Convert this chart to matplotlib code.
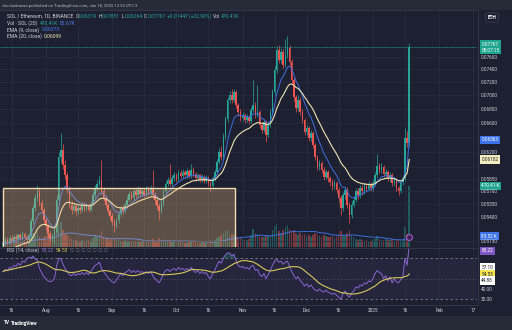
import numpy as np
import pandas as pd
import matplotlib
matplotlib.use("Agg")
import matplotlib.pyplot as plt
import matplotlib.dates as mdates
import matplotlib.transforms as mtransforms
from matplotlib.patches import Rectangle
from matplotlib.ticker import FuncFormatter, NullLocator, FixedLocator

plt.rcParams["font.family"] = ["Roboto", "DejaVu Sans"]

# SOL / ETH, 1D, Binance
start_day = "2024-07-12"
first_open = 0.0508
closes = [
    0.0510, 0.0514, 0.0511, 0.0516, 0.0513, 0.0517, 0.0515, 0.0519, 0.0516, 0.0520, 0.0517, 0.0514, 0.0519,
    0.0535, 0.0550, 0.0562, 0.0570,
    0.0556, 0.0548, 0.0536, 0.0529, 0.0520, 0.0516, 0.0518, 0.0523,
    0.0560, 0.0613, 0.0623, 0.0603, 0.0590, 0.0572, 0.0554,
    0.0548, 0.0552, 0.0546, 0.0550, 0.0548, 0.0554, 0.0549, 0.0553, 0.0548, 0.0555,
    0.0565, 0.0574, 0.0579, 0.0584, 0.0570, 0.0562, 0.0554, 0.0546, 0.0541, 0.0534, 0.0529,
    0.0536, 0.0543, 0.0550, 0.0546, 0.0554, 0.0560, 0.0567, 0.0562, 0.0570, 0.0565, 0.0572, 0.0567, 0.0571, 0.0566, 0.0573, 0.0568, 0.0574,
    0.0565, 0.0559, 0.0553, 0.0547, 0.0556, 0.0570, 0.0579, 0.0584,
    0.0579, 0.0586, 0.0590, 0.0585, 0.0593, 0.0589, 0.0594, 0.0590, 0.0595, 0.0589, 0.0597, 0.0591, 0.0586, 0.0590, 0.0584, 0.0588, 0.0583, 0.0586, 0.0580, 0.0577,
    0.0586, 0.0594, 0.0607, 0.0620, 0.0614, 0.0640, 0.0665, 0.0693, 0.0700, 0.0693, 0.0705,
    0.0685, 0.0675, 0.0667, 0.0671, 0.0664, 0.0668, 0.0662, 0.0678, 0.0685, 0.0671, 0.0675, 0.0657, 0.0650, 0.0661, 0.0643, 0.0657, 0.0675,
    0.0705, 0.0739, 0.0771, 0.0755, 0.0768, 0.0747, 0.0763, 0.0774, 0.0752, 0.0723,
    0.0697, 0.0681, 0.0693, 0.0675, 0.0664, 0.0647, 0.0653, 0.0639, 0.0646, 0.0629, 0.0613, 0.0600, 0.0605, 0.0597, 0.0588, 0.0594, 0.0586, 0.0581, 0.0577, 0.0580, 0.0572, 0.0562,
    0.0550, 0.0565, 0.0572, 0.0554, 0.0542, 0.0554, 0.0560, 0.0570, 0.0565, 0.0574, 0.0570, 0.0577, 0.0573, 0.0579, 0.0574, 0.0580,
    0.0590, 0.0602, 0.0597, 0.0600, 0.0591, 0.0594, 0.0586, 0.0590, 0.0580, 0.0584, 0.0574, 0.0570, 0.0581, 0.0586, 0.0639, 0.06319, 0.07767,
]
highs = [
    0.0513, 0.0517, 0.0517, 0.0519, 0.0519, 0.0520, 0.0520, 0.0522, 0.0521, 0.0524, 0.0523, 0.0519, 0.0522,
    0.0538, 0.0554, 0.0567, 0.0578,
    0.0575, 0.0560, 0.0551, 0.0540, 0.0532, 0.0524, 0.0522, 0.0527,
    0.0565, 0.0620, 0.0645, 0.0630, 0.0610, 0.0594, 0.0576,
    0.0558, 0.0556, 0.0555, 0.0554, 0.0553, 0.0557, 0.0557, 0.0556, 0.0556, 0.0558,
    0.0569, 0.0578, 0.0584, 0.0590, 0.0610, 0.0574, 0.0566, 0.0557, 0.0549, 0.0544, 0.0537,
    0.0539, 0.0546, 0.0553, 0.0554, 0.0557, 0.0564, 0.0571, 0.0570, 0.0573, 0.0574, 0.0576, 0.0575, 0.0574, 0.0574, 0.0577, 0.0576, 0.0578,
    0.0597, 0.0569, 0.0562, 0.0556, 0.0559, 0.0573, 0.0583, 0.0588,
    0.0604, 0.0590, 0.0594, 0.0593, 0.0597, 0.0596, 0.0598, 0.0597, 0.0599, 0.0598, 0.0604, 0.0600, 0.0594, 0.0593, 0.0592, 0.0591, 0.0590, 0.0590, 0.0589, 0.0583,
    0.0589, 0.0598, 0.0611, 0.0625, 0.0628, 0.0645, 0.0670, 0.0698, 0.0706, 0.0709, 0.0710,
    0.0708, 0.0689, 0.0679, 0.0675, 0.0674, 0.0672, 0.0671, 0.0682, 0.0723, 0.0690, 0.0715, 0.0678, 0.0661, 0.0665, 0.0664, 0.0661, 0.0679,
    0.0710, 0.0745, 0.0778, 0.0780, 0.0775, 0.0772, 0.0789, 0.0795, 0.0779, 0.0756,
    0.0727, 0.0701, 0.0700, 0.0697, 0.0679, 0.0667, 0.0657, 0.0656, 0.0650, 0.0649, 0.0632, 0.0616, 0.0609, 0.0608, 0.0600, 0.0598, 0.0597, 0.0589, 0.0585, 0.0584, 0.0583, 0.0575,
    0.0565, 0.0569, 0.0576, 0.0575, 0.0557, 0.0558, 0.0564, 0.0574, 0.0574, 0.0578, 0.0578, 0.0581, 0.0580, 0.0583, 0.0582, 0.0584,
    0.0594, 0.0617, 0.0606, 0.0605, 0.0603, 0.0598, 0.0597, 0.0594, 0.0593, 0.0588, 0.0587, 0.0577, 0.0585, 0.0590, 0.0652, 0.0648, 0.07831,
]
lows = [
    0.0505, 0.0508, 0.0509, 0.0509, 0.0511, 0.0511, 0.0512, 0.0513, 0.0514, 0.0514, 0.0515, 0.0511, 0.0512,
    0.0517, 0.0532, 0.0547, 0.0558,
    0.0553, 0.0544, 0.0533, 0.0525, 0.0516, 0.0512, 0.0513, 0.0509,
    0.0520, 0.0556, 0.0605, 0.0598, 0.0585, 0.0568, 0.0550,
    0.0543, 0.0545, 0.0542, 0.0543, 0.0544, 0.0545, 0.0546, 0.0546, 0.0545, 0.0546,
    0.0553, 0.0562, 0.0571, 0.0576, 0.0567, 0.0558, 0.0551, 0.0543, 0.0537, 0.0530, 0.0523,
    0.0527, 0.0533, 0.0540, 0.0543, 0.0544, 0.0551, 0.0557, 0.0559, 0.0560, 0.0562, 0.0563, 0.0564, 0.0564, 0.0563, 0.0564, 0.0565, 0.0566,
    0.0562, 0.0555, 0.0549, 0.0536, 0.0544, 0.0553, 0.0567, 0.0576,
    0.0576, 0.0576, 0.0583, 0.0582, 0.0583, 0.0586, 0.0586, 0.0587, 0.0587, 0.0586, 0.0587, 0.0588, 0.0583, 0.0583, 0.0581, 0.0581, 0.0580, 0.0580, 0.0576, 0.0571,
    0.0575, 0.0583, 0.0591, 0.0604, 0.0610, 0.0611, 0.0636, 0.0661, 0.0688, 0.0689, 0.0690,
    0.0681, 0.0670, 0.0662, 0.0663, 0.0660, 0.0661, 0.0658, 0.0659, 0.0675, 0.0667, 0.0668, 0.0653, 0.0645, 0.0647, 0.0633, 0.0640, 0.0654,
    0.0671, 0.0700, 0.0734, 0.0750, 0.0750, 0.0742, 0.0743, 0.0758, 0.0747, 0.0718,
    0.0692, 0.0676, 0.0677, 0.0671, 0.0659, 0.0643, 0.0643, 0.0635, 0.0635, 0.0625, 0.0609, 0.0596, 0.0596, 0.0593, 0.0584, 0.0585, 0.0582, 0.0577, 0.0572, 0.0573, 0.0568, 0.0557,
    0.0542, 0.0547, 0.0561, 0.0550, 0.0533, 0.0539, 0.0551, 0.0557, 0.0561, 0.0562, 0.0566, 0.0567, 0.0570, 0.0570, 0.0571, 0.0571,
    0.0577, 0.0587, 0.0593, 0.0593, 0.0588, 0.0587, 0.0583, 0.0582, 0.0577, 0.0576, 0.0570, 0.0566, 0.0568, 0.0578, 0.0583, 0.0626, 0.06264,
]
volumes_k = [
    40, 35, 30, 45, 38, 50, 42, 35, 30, 48, 55, 40, 45,
    90, 110, 95, 120,
    80, 70, 75, 85, 90, 110, 70, 160,
    150, 210, 190, 130, 100, 90, 80,
    60, 50, 55, 45, 40, 50, 45, 55, 50, 48,
    70, 85, 80, 95, 120, 80, 70, 60, 55, 65, 70,
    55, 50, 45, 40, 50, 45, 40, 35, 45, 40, 38, 35, 42, 45, 40, 38, 44,
    60, 50, 45, 70, 55, 65, 50, 45,
    50, 40, 35, 45, 40, 38, 35, 30, 32, 40, 45, 38, 35, 30, 32, 35, 30, 34, 38, 50,
    45, 55, 70, 80, 95, 110, 120, 130, 90, 100, 95,
    85, 70, 75, 60, 55, 50, 65, 90, 140, 110, 100, 85, 75, 80, 95, 85, 90,
    130, 160, 180, 120, 110, 130, 150, 170, 140, 120,
    130, 100, 90, 110, 95, 100, 85, 90, 80, 95, 110, 100, 85, 80, 95, 85, 80, 75, 85, 70, 80, 100,
    120, 90, 85, 110, 130, 95, 80, 65, 50, 60, 55, 45, 50, 48, 45, 52,
    60, 85, 65, 55, 50, 60, 55, 50, 60, 45, 55, 60, 50, 55, 150, 100, 470.41,
]
rsi_values = [
    57, 59, 58, 61, 60, 63, 62, 65, 63, 67, 66, 69, 71,
    70, 72, 69, 68,
    60, 56, 52, 50, 48, 47, 48, 50,
    62, 70, 69, 64, 60, 57, 54,
    53, 55, 53, 55, 54, 56, 54, 56, 54, 57,
    60, 63, 64, 66, 60, 57, 54, 51, 49, 47, 46,
    49, 52, 55, 53, 56, 57, 59, 56, 58, 56, 58, 56, 57, 55, 57, 55, 57,
    53, 50, 48, 46, 50, 55, 58, 59,
    57, 59, 60, 58, 61, 59, 60, 58, 60, 58, 61, 58, 56, 58, 55, 57, 55, 56, 52, 50,
    55, 58, 63, 67, 65, 70, 73, 75, 75, 72, 74,
    67, 63, 61, 62, 60, 61, 59, 62, 63, 58, 59, 54, 52, 55, 50, 54, 58,
    63, 67, 69, 66, 67, 64, 66, 67, 62, 57,
    53, 50, 52, 48, 46, 43, 45, 42, 44, 41, 39, 38, 40, 38, 37, 39, 37, 36, 35, 36, 34, 32,
    30, 36, 38, 34, 32, 36, 38, 42, 41, 44, 43, 46, 45, 48, 47, 50,
    55, 58, 56, 55, 50, 53, 48, 52, 46, 50, 47, 46, 49, 52, 70, 63, 83.22,
]

# EMA starting values (history before the visible window)
ema_fast_seed = 0.0508
ema_slow_seed = 0.0498

price_ticks = [0.0513, 0.0540, 0.0555, 0.0570, 0.0585, 0.0600, 0.0620, 0.0640,
               0.0660, 0.0680, 0.0700, 0.0720, 0.0740, 0.0760]
hidden_price_ticks = [0.0600, 0.0640]
time_ticks = ["2024-07-16", "2024-08-01", "2024-08-16", "2024-09-01", "2024-09-16",
              "2024-10-01", "2024-10-16", "2024-11-01", "2024-11-16", "2024-12-01",
              "2024-12-16", "2025-01-01", "2025-01-16", "2025-02-01", "2025-02-17"]
time_labels = ["16", "Aug", "16", "Sep", "16", "Oct", "16", "Nov", "16", "Dec",
               "16", "2025", "16", "Feb", "17"]
box_end = "2024-10-28 12:00"
box_top = 0.05744
rsi_extra_labels = ["57.10", "54.53", "44.88"]

W, H = 512, 330
PANE_R = 477
BG = "#1d2030"
FRAME = "#272b38"
GRID = "#2a2e3e"
SEP = "#363a48"
TXT = "#d1d4dc"
UP = "#26a69a"
DOWN = "#ef5350"
BLUE = "#3f6fe0"
CREAM = "#efe3b4"
PURPLE = "#7e57c2"
YELLOW = "#d8c85a"
FS = 3.4
FS_LEG = 3.65


def rect(x0, y0, x1, y1):
    return [x0 / W, 1 - y1 / H, (x1 - x0) / W, (y1 - y0) / H]


def ema(vals, n, seed):
    k = 2 / (n + 1)
    out, e = [], seed
    for v in vals:
        e = e + k * (v - e)
        out.append(e)
    return np.array(out)


def tag(axis, y, text, fc, tc="white", dy=0, va="center"):
    tr = mtransforms.blended_transform_factory(axis.transAxes, axis.transData)
    tr = tr + mtransforms.ScaledTranslation(0, dy / 100, fig.dpi_scale_trans)
    axis.text(1.009, y, text, transform=tr, fontsize=FS, color=tc, va=va, ha="left",
              clip_on=False, zorder=20, linespacing=1.15,
              bbox=dict(boxstyle="square,pad=0.35", fc=fc, ec="none"))


def write_row(y_px, parts, x_px=7, size=FS_LEG):
    r = fig.canvas.get_renderer()
    x = x_px
    for text, color, gap in parts:
        t = fig.text(x / W, 1 - y_px / H, text, color=color, fontsize=size,
                     va="center", ha="left")
        x = t.get_window_extent(renderer=r).x1 + gap


dates = pd.date_range(start_day, periods=len(closes), freq="D")
x = mdates.date2num(dates)
c = np.array(closes)
o = np.array([first_open] + closes[:-1])
hi = np.array(highs)
lo = np.array(lows)
vol = np.array(volumes_k)
rsi = np.array(rsi_values)
cols = np.where(c >= o, UP, DOWN)

ema9 = ema(closes, 9, ema_fast_seed)
ema20 = ema(closes, 20, ema_slow_seed)
vol_ma = pd.Series(vol).rolling(20, min_periods=1).mean().to_numpy()
rsi_ma = pd.Series(rsi).rolling(14, min_periods=1).mean().to_numpy()

fig = plt.figure(figsize=(W / 100, H / 100), dpi=100)
fig.patch.set_facecolor(FRAME)
fig.patches.append(Rectangle((0, 1 - 316 / H), 1, 306 / H, transform=fig.transFigure,
                             fc=BG, ec="none", zorder=-10))

# volume pane (under the candles)
ax_vol = fig.add_axes(rect(0, 10, PANE_R, 247))
ax_vol.set_facecolor(BG)
ax_vol.bar(x, vol, width=0.72, color=cols, alpha=0.45, lw=0)
ax_vol.plot(x, vol_ma, color=BLUE, lw=0.7)
ax_vol.set_ylim(0, 1820)
ax_vol.set_yticks([])
ax_vol.tick_params(bottom=False, labelbottom=False)

# price pane
ax = fig.add_axes(rect(0, 10, PANE_R, 247), sharex=ax_vol)
ax.set_facecolor("none")
ax.set_yscale("log")
ax.vlines(x, lo, hi, colors=cols, lw=0.5, zorder=3)
ax.bar(x, np.maximum(np.abs(c - o), 0.00004), bottom=np.minimum(o, c), width=0.72,
       color=cols, lw=0, zorder=3)
ax.plot(x, ema9, color=BLUE, lw=0.7, zorder=4)
ax.plot(x, ema20, color=CREAM, lw=0.8, zorder=4)
ax.axhline(c[-1], color=UP, lw=0.6, ls=(0, (1, 1)), zorder=4)

box_x0 = x[0] - 0.1
ax.add_patch(Rectangle((box_x0, 0.049), mdates.date2num(pd.Timestamp(box_end)) - box_x0,
                       box_top - 0.049, fc=(0.94, 0.75, 0.5, 0.3), ec="#f2dcb0",
                       lw=1.0, zorder=6))

ax.set_ylim(0.05061, 0.08397)
ax.set_xlim(x[0] - 1.47, x[0] + 221.7)
ax.yaxis.set_major_locator(FixedLocator(price_ticks))
ax.yaxis.set_minor_locator(NullLocator())
ax.yaxis.set_major_formatter(FuncFormatter(
    lambda v, p: "" if any(abs(v - h) < 1e-7 for h in hidden_price_ticks) else f"{v:.5f}"))
ax.yaxis.tick_right()
ax.tick_params(axis="y", length=0, pad=3, labelsize=FS, labelcolor=TXT)
ax.tick_params(axis="x", length=0, labelbottom=False)
ax.grid(True, color=GRID, lw=0.5)
ax.set_axisbelow(True)

# purple idea marker near the last bar
trm = mtransforms.blended_transform_factory(ax.transData, ax.transAxes)
ax.plot([x[-1]], [0.042], transform=trm, marker="o", ms=4.2, mfc="#3a2350",
        mec="#b45fd6", mew=0.7, zorder=7, clip_on=False)

# RSI pane
ax_rsi = fig.add_axes(rect(0, 248, PANE_R, 304), sharex=ax_vol)
ax_rsi.set_facecolor(BG)
ax_rsi.axhspan(30, 70, color=PURPLE, alpha=0.1, lw=0)
ax_rsi.axhline(70, color="#787b86", lw=0.6, ls=(0, (3, 3)))
ax_rsi.axhline(50, color="#787b86", lw=0.5, ls=(0, (2, 3)), alpha=0.6)
ax_rsi.axhline(30, color="#787b86", lw=0.6, ls=(0, (3, 3)))
ax_rsi.fill_between(x, 70, rsi, where=rsi > 70, color=UP, alpha=0.3, lw=0, interpolate=True)
ax_rsi.fill_between(x, 30, rsi, where=rsi < 30, color=DOWN, alpha=0.3, lw=0, interpolate=True)
ax_rsi.plot(x, rsi, color="#8a66cf", lw=0.7)
ax_rsi.plot(x, rsi_ma, color=YELLOW, lw=0.8)
ax_rsi.set_ylim(25.5, 79.8)
ax_rsi.set_yticks([30, 40])
ax_rsi.yaxis.set_major_formatter(FuncFormatter(lambda v, p: f"{v:.2f}"))
ax_rsi.yaxis.tick_right()
ax_rsi.tick_params(axis="y", length=0, pad=3, labelsize=FS, labelcolor=TXT)
ax_rsi.set_xticks(mdates.date2num(pd.to_datetime(time_ticks)))
ax_rsi.set_xticklabels(time_labels)
ax_rsi.tick_params(axis="x", length=0, pad=2.6, labelsize=FS, labelcolor=TXT)
ax_rsi.grid(True, axis="x", color=GRID, lw=0.5)

for a in (ax_vol, ax, ax_rsi):
    for s in a.spines.values():
        s.set_visible(False)

# pane separators
for y in (10, 247.5, 304.5):
    fig.add_artist(plt.Line2D([0, PANE_R / W], [1 - y / H] * 2, color=SEP, lw=0.6))
fig.add_artist(plt.Line2D([(PANE_R + 0.5) / W] * 2, [1 - 304.5 / H, 1 - 10 / H], color=SEP, lw=0.6))

# right scale tags
tag(ax, c[-1], f"{c[-1]:.5f}\n08:07:15", "#1fa58f", dy=4.5, va="top")
tag(ax, ema9[-1], f"{ema9[-1]:.5f}", "#3d74ea")
tag(ax, ema20[-1], f"{ema20[-1]:.5f}", "#f3ecbe", tc="#1d2030")
tag(ax_vol, vol[-1], f"{vol[-1]:.2f} K", "#1fa58f")
tag(ax_vol, vol_ma[-1], f"{vol_ma[-1]:.2f} K", "#3d74ea")
tag(ax_rsi, min(rsi[-1], 77.0), f"{rsi[-1]:.2f}", PURPLE)
ma_last = rsi_ma[-1]
tag(ax_rsi, ma_last + 6.3, rsi_extra_labels[0], "#ffffff", tc="#1d2030")
tag(ax_rsi, ma_last, rsi_extra_labels[1], "#f5e44e", tc="#1d2030")
tag(ax_rsi, ma_last - 6.3, rsi_extra_labels[2], "#ffffff", tc="#1d2030")

fig.text(492 / W, 1 - 17.5 / H, "ETH", color="white", fontsize=FS, ha="center", va="center",
         weight="bold", bbox=dict(boxstyle="round,pad=0.45", fc=BG, ec="#3a3e4c", lw=0.6))

# header / legends
fig.text(2 / W, 1 - 5.5 / H, "vlsicluebazan published on TradingView.com, Jan 18, 2025 12:52 UTC-3",
         color="#b2b5be", fontsize=3.1, va="center")
write_row(16.5, [("SOL / Ethereum, 1D, BINANCE", TXT, 2.5), ("O", TXT, 0), ("0.06319", UP, 1.5),
                 ("H", TXT, 0), ("0.07831", UP, 1.5), ("L", TXT, 0), ("0.06264", UP, 1.5),
                 ("C", TXT, 0), ("0.07767", UP, 1.5), ("+0.01447 (+22.90%)", UP, 2.5),
                 ("Vol", TXT, 0.5), ("470.41K", UP, 0)])
write_row(23.2, [("Vol · SOL (20)", TXT, 2.5), ("470.41K", UP, 1.5), ("82.67K", "#4a7cf0", 0)])
write_row(29.8, [("EMA (9, close)", TXT, 2.5), ("0.06373", "#4a7cf0", 0)])
write_row(36.4, [("EMA (20, close)", TXT, 2.5), ("0.06099", CREAM, 0)])
write_row(250, [("RSI (14, close)", TXT, 2.5), ("83.22", "#9575cd", 2), ("54.53", YELLOW, 2),
                ("∅ ∅ ∅ ∅ ∅ ∅ ∅", "#787b86", 0)])

fig.text(4 / W, 1 - 323 / H, "TV", color="white", fontsize=3.4, weight="bold", va="center")
fig.text(11 / W, 1 - 323 / H, "TradingView", color="white", fontsize=3.4, weight="bold", va="center")

fig.savefig("out.png", dpi=100, facecolor=fig.get_facecolor())
